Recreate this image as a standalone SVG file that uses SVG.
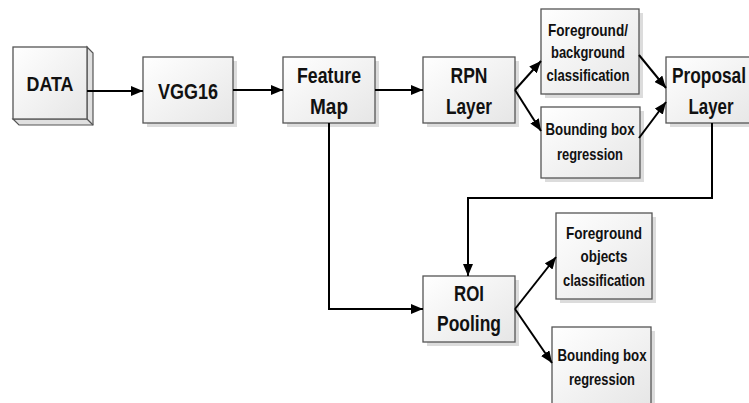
<svg xmlns="http://www.w3.org/2000/svg" width="749" height="403" viewBox="0 0 749 403">
<defs>
<linearGradient id="g" x1="0" y1="0" x2="1" y2="1">
<stop offset="0" stop-color="#ffffff"/>
<stop offset="1" stop-color="#e6e6e6"/>
</linearGradient>
<marker id="ar" viewBox="0 0 12 10" refX="12" refY="5" markerWidth="12" markerHeight="10" markerUnits="userSpaceOnUse" orient="auto">
<path d="M0,0 L12,5 L0,10 Z" fill="#000"/>
</marker>
</defs>
<style>
.box{fill:url(#g);stroke:#555;stroke-width:1.3}
.sh{fill:#dcdcdc}
.t{font-family:"Liberation Sans",Arial,sans-serif;font-weight:bold;fill:#111;text-anchor:middle}
.L{font-size:21.5px}
.S{font-size:17px}
.c{fill:none;stroke:#000;stroke-width:2;marker-end:url(#ar)}
</style>
<g id="data">
<polygon points="87,47 93,53 93,125 19,125 13,119 87,119" fill="#e0e0e0" stroke="#555" stroke-width="1.2"/>
<line x1="87" y1="119" x2="93" y2="125" stroke="#555" stroke-width="1.2"/>
<rect class="box" x="13" y="47" width="74" height="72"/>
<text class="t" x="50" y="90.5" font-size="21" textLength="47" lengthAdjust="spacingAndGlyphs">DATA</text>
</g>
<g id="vgg16">
<rect class="sh" x="147" y="61" width="90" height="66"/>
<rect class="box" x="143" y="57" width="90" height="66"/>
<text class="t L" x="188" y="98.5" textLength="60" lengthAdjust="spacingAndGlyphs">VGG16</text>
</g>
<g id="featuremap">
<rect class="sh" x="287" y="61" width="92" height="66"/>
<rect class="box" x="283" y="57" width="92" height="66"/>
<text class="t L" x="329" y="82.5" textLength="64" lengthAdjust="spacingAndGlyphs">Feature</text>
<text class="t L" x="329" y="113.5" textLength="38" lengthAdjust="spacingAndGlyphs">Map</text>
</g>
<g id="rpn">
<rect class="sh" x="427" y="61" width="92" height="66"/>
<rect class="box" x="423" y="57" width="92" height="66"/>
<text class="t L" x="469" y="82.5" textLength="37" lengthAdjust="spacingAndGlyphs">RPN</text>
<text class="t L" x="469" y="113.5" textLength="46" lengthAdjust="spacingAndGlyphs">Layer</text>
</g>
<g id="fgbg">
<rect class="sh" x="545" y="13" width="98" height="85"/>
<rect class="box" x="541" y="9" width="98" height="85"/>
<text class="t S" x="588" y="35.5" textLength="80" lengthAdjust="spacingAndGlyphs">Foreground/</text>
<text class="t S" x="588" y="58" textLength="74" lengthAdjust="spacingAndGlyphs">background</text>
<text class="t S" x="588" y="80.5" textLength="83" lengthAdjust="spacingAndGlyphs">classification</text>
</g>
<g id="bbox1">
<rect class="sh" x="545" y="111" width="99" height="71"/>
<rect class="box" x="541" y="107" width="99" height="71"/>
<text class="t S" x="590" y="134.5" textLength="89" lengthAdjust="spacingAndGlyphs">Bounding box</text>
<text class="t S" x="590" y="160" textLength="66" lengthAdjust="spacingAndGlyphs">regression</text>
</g>
<g id="proposal">
<rect class="sh" x="670" y="61" width="92" height="66"/>
<rect class="box" x="666" y="57" width="92" height="66"/>
<text class="t L" x="709" y="82.5" textLength="74" lengthAdjust="spacingAndGlyphs">Proposal</text>
<text class="t L" x="711" y="113.5" textLength="45" lengthAdjust="spacingAndGlyphs">Layer</text>
</g>
<g id="roi">
<rect class="sh" x="427" y="280" width="92" height="66"/>
<rect class="box" x="423" y="276" width="92" height="66"/>
<text class="t L" x="469" y="301" textLength="30" lengthAdjust="spacingAndGlyphs">ROI</text>
<text class="t L" x="469" y="331" textLength="64" lengthAdjust="spacingAndGlyphs">Pooling</text>
</g>
<g id="fgobj">
<rect class="sh" x="560" y="217" width="96" height="86"/>
<rect class="box" x="556" y="213" width="96" height="86"/>
<text class="t S" x="604" y="238.5" textLength="76" lengthAdjust="spacingAndGlyphs">Foreground</text>
<text class="t S" x="604" y="262" textLength="47" lengthAdjust="spacingAndGlyphs">objects</text>
<text class="t S" x="604" y="286" textLength="82" lengthAdjust="spacingAndGlyphs">classification</text>
</g>
<g id="bbox2">
<rect class="sh" x="556" y="331" width="99" height="80"/>
<rect class="box" x="552" y="327" width="99" height="80"/>
<text class="t S" x="602" y="360.5" textLength="89" lengthAdjust="spacingAndGlyphs">Bounding box</text>
<text class="t S" x="602" y="385" textLength="66" lengthAdjust="spacingAndGlyphs">regression</text>
</g>
<g id="connectors">
<line class="c" x1="87" y1="91" x2="143" y2="91"/>
<line class="c" x1="233" y1="90" x2="283" y2="90"/>
<line class="c" x1="375" y1="90" x2="423" y2="90"/>
<line class="c" x1="515" y1="90" x2="541" y2="61"/>
<line class="c" x1="515" y1="90" x2="541" y2="131"/>
<line class="c" x1="639" y1="55" x2="666" y2="88"/>
<line class="c" x1="639" y1="138" x2="666" y2="102"/>
<polyline class="c" points="712,123 712,198 468,198 468,276"/>
<polyline class="c" points="329,123 329,309 423,309"/>
<line class="c" x1="515" y1="309" x2="556" y2="257"/>
<line class="c" x1="515" y1="309" x2="552" y2="363"/>
</g>
</svg>
